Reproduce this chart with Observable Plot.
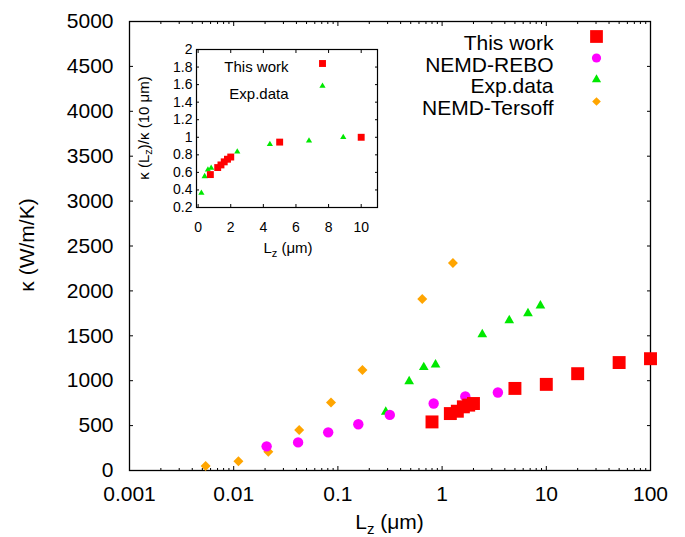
<!DOCTYPE html>
<html><head><meta charset="utf-8">
<script src="https://cdn.jsdelivr.net/npm/d3@7"></script>
<script src="https://cdn.jsdelivr.net/npm/@observablehq/plot@0.6"></script>
<style>
body{margin:0;background:#fff}
#wrap{position:relative;width:685px;height:537px}
#inset{position:absolute;left:120px;top:36px}
</style>
</head><body><div id="wrap"><div id="main"></div><div id="inset"></div></div>
<script>
// ---- Main chart data (L_z in µm, κ in W/m/K) ----
const thisL  = [0.8, 1.2, 1.4, 1.6, 1.8, 2, 5, 10, 20, 50, 100];
const thisK  = [541, 634, 660, 709, 728, 746, 914, 959, 1078, 1202, 1245];
const reboL  = [0.0207, 0.0415, 0.0807, 0.157, 0.315, 0.83, 1.67, 3.43];
const reboK  = [269, 313, 425, 515, 619, 746, 825, 869];
const expL   = [0.288, 0.483, 0.667, 0.865, 2.43, 4.41, 6.67, 8.78];
const expK   = [653, 993, 1149, 1179, 1515, 1672, 1750, 1836];
const terL   = [0.00538, 0.0111, 0.0215, 0.0425, 0.0859, 0.172, 0.645, 1.27];
const terK   = [49, 104, 209, 451, 757, 1119, 1911, 2311];

// ---- Inset data (κ(L_z)/κ(10 µm)) ----
const inThisL = [0.75, 1.2, 1.4, 1.6, 1.8, 2, 5, 10];
const inThisR = [0.575, 0.655, 0.685, 0.72, 0.75, 0.775, 0.945, 1.0];
const inExpL  = [0.2, 0.4, 0.6, 0.8, 2.4, 4.4, 6.8, 8.9];
const inExpR  = [0.365, 0.555, 0.63, 0.65, 0.835, 0.92, 0.96, 1.0];

// ---- Ticks & labels ----
const xMajor = [0.001, 0.01, 0.1, 1, 10, 100];
const xMinor = [0.002,0.003,0.004,0.005,0.006,0.007,0.008,0.009,
                0.02,0.03,0.04,0.05,0.06,0.07,0.08,0.09,
                0.2,0.3,0.4,0.5,0.6,0.7,0.8,0.9,
                2,3,4,5,6,7,8,9,
                20,30,40,50,60,70,80,90];
const yTicks = [0, 500, 1000, 1500, 2000, 2500, 3000, 3500, 4000, 4500, 5000];
const inXTicks = [0, 2, 4, 6, 8, 10];
const inYTicks = [0.2, 0.4, 0.6, 0.8, 1, 1.2, 1.4, 1.6, 1.8, 2];
const legendNames = ["This work", "NEMD-REBO", "Exp.data", "NEMD-Tersoff"];
const insetLegend = ["This work", "Exp.data"];

const RED = "#ff0000", MAG = "#ff00ff", GRN = "#00e800", ORG = "#ffa500";
const FONT = '"Liberation Sans", Arial, Helvetica, sans-serif';

const rows = (xs, ys) => xs.map((x, i) => ({x, y: ys[i]}));

const legendSym = [
  {symbol: "square", fill: RED, r: 7.2},
  {symbol: "circle", fill: MAG, r: 4.6},
  {symbol: "triangle", fill: GRN, r: 3.4},
  {symbol: "diamond2", fill: ORG, r: 3.9}
];
const legendDy = [14, 35.5, 57, 79];

const legendMarks = legendNames.flatMap((name, i) => [
  Plot.text([name], {frameAnchor: "top-right", text: d => d, textAnchor: "end", dx: -97, dy: legendDy[i], fontSize: 21, fill: "black"}),
  Plot.dot([name], {frameAnchor: "top-right", dx: -54, dy: legendDy[i] + 1, ...legendSym[i]})
]);

const main = Plot.plot({
  width: 685, height: 537,
  marginLeft: 129, marginRight: 35, marginTop: 21, marginBottom: 67,
  style: {fontFamily: FONT, fontSize: "21px", background: "white", color: "black"},
  x: {type: "log", domain: [0.001, 100]},
  y: {domain: [0, 5000]},
  marks: [
    Plot.axisY({ticks: yTicks, tickSize: 0, tickPadding: 16, tickFormat: d => String(d), label: null}),
    Plot.axisY({ticks: yTicks, tickSize: -4, fill: "none"}),
    Plot.axisY({anchor: "right", ticks: yTicks, tickSize: -4, fill: "none"}),
    Plot.axisX({ticks: xMajor, tickSize: 0, tickPadding: 16, tickFormat: d => String(d), label: null}),
    Plot.axisX({ticks: xMajor, tickSize: -4, fill: "none"}),
    Plot.axisX({ticks: xMinor, tickSize: -2, fill: "none"}),
    Plot.axisX({anchor: "top", ticks: xMajor, tickSize: -4, fill: "none"}),
    Plot.axisX({anchor: "top", ticks: xMinor, tickSize: -2, fill: "none"}),
    Plot.frame({stroke: "black", strokeWidth: 1.3}),
    Plot.dot(rows(terL, terK), {x: "x", y: "y", symbol: "diamond2", fill: ORG, r: 4.5}),
    Plot.dot(rows(expL, expK), {x: "x", y: "y", symbol: "triangle", fill: GRN, r: 3.6}),
    Plot.dot(rows(reboL, reboK), {x: "x", y: "y", symbol: "circle", fill: MAG, r: 5.2}),
    Plot.dot(rows(thisL, thisK), {x: "x", y: "y", symbol: "square", fill: RED, r: 7.3}),
    ...legendMarks
  ]
});
document.getElementById("main").appendChild(main);

// main axis labels
const ms = d3.select(main);
ms.append("text")
  .attr("transform", "translate(28,245) rotate(-90)")
  .attr("text-anchor", "middle").attr("dominant-baseline", "middle")
  .attr("font-family", FONT).attr("font-size", 21).attr("fill", "black")
  .text("κ (W/m/K)");
const xl = ms.append("text")
  .attr("x", 389.5).attr("y", 529)
  .attr("text-anchor", "middle")
  .attr("font-family", FONT).attr("font-size", 21).attr("fill", "black");
xl.append("tspan").text("L");
xl.append("tspan").attr("dy", 5).attr("font-size", 15).text("z");
xl.append("tspan").attr("dy", -5).text(" (μm)");

// ---- Inset ----
const inset = Plot.plot({
  width: 270, height: 230,
  marginLeft: 76, marginRight: 13, marginTop: 13, marginBottom: 59,
  style: {fontFamily: FONT, fontSize: "14px", background: "transparent", color: "black", overflow: "visible"},
  x: {domain: [-0.1, 11]},
  y: {domain: [0.2, 2]},
  marks: [
    Plot.axisY({ticks: inYTicks, tickSize: 0, tickPadding: 4, tickFormat: d => String(d), label: null}),
    Plot.axisY({ticks: inYTicks, tickSize: -3, fill: "none"}),
    Plot.axisY({anchor: "right", ticks: inYTicks, tickSize: -3, fill: "none"}),
    Plot.axisX({ticks: inXTicks, tickSize: 0, tickPadding: 15, tickFormat: d => String(d), label: null}),
    Plot.axisX({ticks: inXTicks, tickSize: -3, fill: "none"}),
    Plot.axisX({anchor: "top", ticks: inXTicks, tickSize: -3, fill: "none"}),
    Plot.frame({stroke: "black", strokeWidth: 1.2}),
    Plot.dot(rows(inExpL, inExpR), {x: "x", y: "y", symbol: "triangle", fill: GRN, r: 2.3}),
    Plot.dot(rows(inThisL, inThisR), {x: "x", y: "y", symbol: "square", fill: RED, r: 3.9}),
    Plot.text([insetLegend[0]], {frameAnchor: "top-left", text: d => d, textAnchor: "end", dx: 92, dy: 12, fontSize: 15, fill: "black"}),
    Plot.dot([insetLegend[0]], {frameAnchor: "top-left", dx: 126, dy: 14, symbol: "square", fill: RED, r: 3.9}),
    Plot.text([insetLegend[1]], {frameAnchor: "top-left", text: d => d, textAnchor: "end", dx: 92, dy: 39, fontSize: 15, fill: "black"}),
    Plot.dot([insetLegend[1]], {frameAnchor: "top-left", dx: 126, dy: 36.5, symbol: "triangle", fill: GRN, r: 2.3})
  ]
});
document.getElementById("inset").appendChild(inset);
const is = d3.select(inset);
const iyl = is.append("text")
  .attr("transform", "translate(25,92) rotate(-90)")
  .attr("text-anchor", "middle").attr("dominant-baseline", "middle")
  .attr("font-family", FONT).attr("font-size", 15).attr("fill", "black");
iyl.append("tspan").text("κ (L");
iyl.append("tspan").attr("dy", 4).attr("font-size", 11).text("z");
iyl.append("tspan").attr("dy", -4).text(")/κ (10 μm)");
const ixl = is.append("text")
  .attr("x", 168).attr("y", 217)
  .attr("text-anchor", "middle")
  .attr("font-family", FONT).attr("font-size", 15).attr("fill", "black");
ixl.append("tspan").text("L");
ixl.append("tspan").attr("dy", 4).attr("font-size", 11).text("z");
ixl.append("tspan").attr("dy", -4).text(" (μm)");
</script>
</body></html>
